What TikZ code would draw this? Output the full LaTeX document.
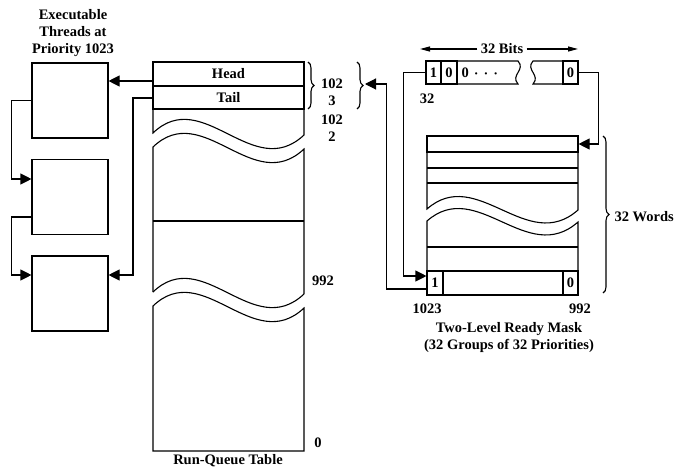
\documentclass[tikz,border=0pt]{standalone}
\usepackage{fontspec}
\setmainfont{Liberation Serif}
\usetikzlibrary{arrows.meta,decorations.pathreplacing,calc}
\begin{document}
\begin{tikzpicture}[x=1pt,y=-1pt,line width=1.1pt,
  lbl/.style={font=\fontsize{14.5}{17}\selectfont\bfseries,inner sep=0pt,align=center},
  thread/.style={draw,minimum width=76pt,minimum height=75pt,inner sep=0pt},
  cell/.style={draw,inner sep=0pt,font=\fontsize{14.5}{17}\selectfont\bfseries},
  arr/.style={-{Triangle[length=11pt,width=11pt]}},
  thin arr/.style={-{Triangle[length=10pt,width=5pt]}},
  brc/.style={decorate,decoration={brace,amplitude=6pt}},
]
\useasboundingbox (0,0) rectangle (676,470);

% ---------- threads ----------
\node[lbl] (title) at (73,33) {Executable\\Threads at\\Priority 1023};
\node[thread] (t1) at (70,100.5) {};
\node[thread] (t2) at (70,197) {};
\node[thread] (t3) at (70,293.5) {};
\draw[arr] (t1.west) -- ++(-20,0) |- ([yshift=18pt]t2.west);
\draw[arr] ([yshift=-20pt]t2.west) -- ++(-20,0) |- ([yshift=18.5pt]t3.west);

% ---------- run-queue table ----------
\node[cell,minimum width=151pt,minimum height=24pt] (head) at (228.5,74) {Head};
\node[cell,minimum width=151pt,minimum height=23pt] (tail) at (228.5,97.5) {Tail};
\draw (153,109) -- (153,133) .. controls (203,85) and (253,183) .. (304,135) -- (304,109);
\draw (153,292) -- (153,147) .. controls (203,99) and (253,197) .. (304,149) -- (304,294);
\draw (153,292) .. controls (203,244) and (253,342) .. (304,294);
\draw (153,221) -- (304,221);
\draw (153,306) .. controls (203,258) and (253,356) .. (304,308) -- (304,451) -- (153,451) -- cycle;
\coordinate (headout) at (153,81);
\coordinate (tailbend) at (133,98);
\draw[arr] (headout) -- (headout -| t1.east);
\draw[arr] (tail.west |- tailbend) -- (tailbend) |- ([yshift=18.5pt]t3.east);
\draw[brc] (308,62) -- (308,109);
\node[lbl] (l1023) at (332,92.5) {102\\3};
\node[lbl] (l1022) at (332,128.5) {102\\2};
\node[lbl] (l992a) at (323,281) {992};
\node[lbl] (l0a) at (318,443) {0};
\node[lbl] (rqt) at (228,461) {Run-Queue Table};

% ---------- 32-bit word ----------
\node[lbl] (bits) at (502,49) {32 Bits};
\coordinate (bitsL) at (420,49);
\coordinate (bitsR) at (578,49);
\draw[thin arr] (bits.west) ++(-3pt,0) -- (bitsL);
\draw[thin arr] (bits.east) ++(3pt,0) -- (bitsR);
\node[cell,minimum width=15pt,minimum height=23pt] (b1) at (433.5,72.5) {1};
\node[cell,minimum width=16pt,minimum height=23pt] (b0) at (449,72.5) {0};
\draw (457,61) -- (518,61) .. controls (526,70) and (510,75) .. (518,84) -- (457,84);
\node[lbl,anchor=west] (dots) at (461,73) {0\hspace{6pt}\raisebox{1pt}{\footnotesize\textbullet\hspace{7pt}\textbullet\hspace{7pt}\textbullet}};
\node[cell,minimum width=15pt,minimum height=23pt] (bR) at (570.5,72.5) {0};
\draw (563,61) -- (533,61) .. controls (525,70) and (541,75) .. (533,84) -- (563,84);
\node[lbl] (l32) at (427,99) {32};

% ---------- ready mask ----------
\node[draw,minimum width=151pt,minimum height=16pt,inner sep=0pt] (m1) at (502.5,144) {};
\draw (427,152) -- (427,209) .. controls (477,165) and (527,255) .. (578,210) -- (578,152);
\draw (427,168) -- (578,168);
\draw (427,183) -- (578,183);
\draw (427,221) .. controls (477,177) and (527,267) .. (578,222) -- (578,271) -- (427,271) -- cycle;
\draw (427,247) -- (578,247);
\node[draw,minimum width=151pt,minimum height=24pt,inner sep=0pt] (mb) at (502.5,283) {};
\node[cell,minimum width=16pt,minimum height=24pt] (mb1) at (435,283) {1};
\node[cell,minimum width=15pt,minimum height=24pt] (mb0) at (570.5,283) {0};
\draw[brc] (603,136) -- (603,293);
\node[lbl,anchor=west] (words) at (614,217) {32 Words};
\node[lbl] (l1023b) at (427,309) {1023};
\node[lbl] (l992b) at (580,309) {992};
\node[lbl] (cap) at (509,338) {Two-Level Ready Mask\\(32 Groups of 32 Priorities)};

% ---------- connectors ----------
\draw[brc] (357,62) -- (357,109);
\coordinate (brtip) at (365,84);
\draw[arr] (b1.west) -- ++(-22,0) |- ([yshift=7pt]mb1.west);
\draw[arr] ([yshift=-6pt]mb1.west) -- ++(-40,0) |- (brtip);
\draw[arr] (bR.east) -- ++(20,0) |- (m1.east);
\end{tikzpicture}
\end{document}
